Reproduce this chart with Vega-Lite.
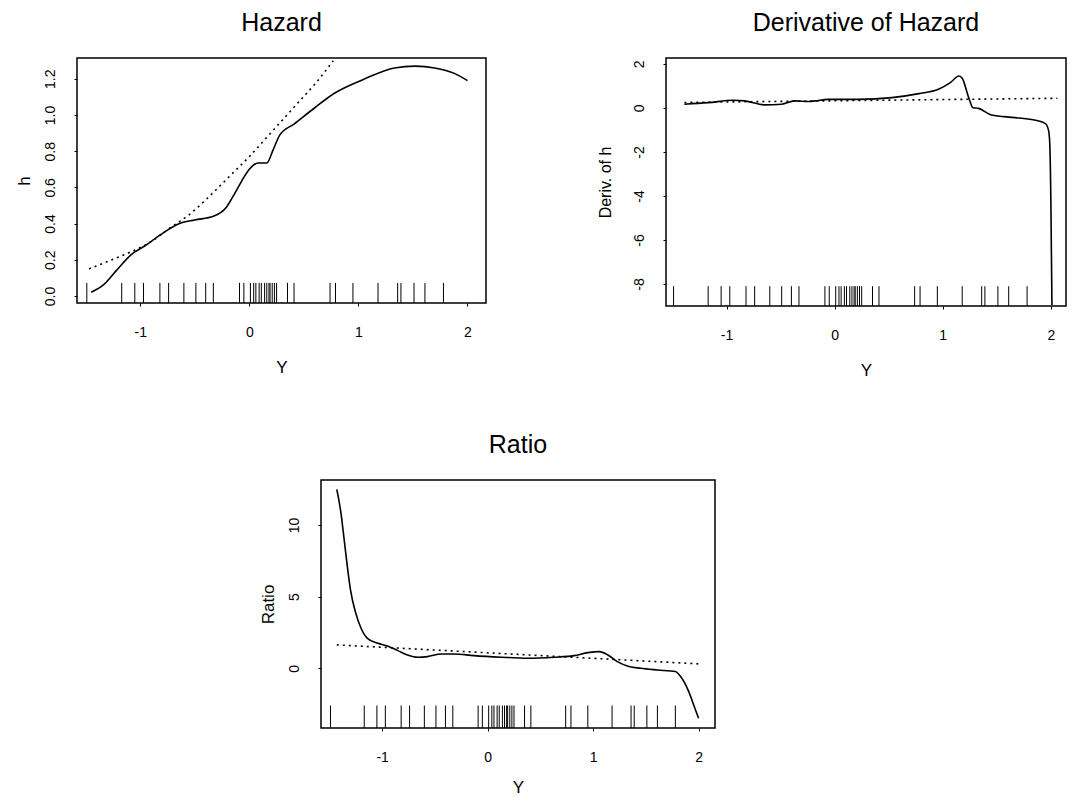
{
  "$schema": "https://vega.github.io/schema/vega-lite/v6.json",
  "padding": {"left": 14, "top": 10, "right": 0, "bottom": 0},
  "background": "white",
  "config": {
    "view": {"stroke": null},
    "font": "Liberation Sans",
    "title": {"fontSize": 25, "fontWeight": "normal", "font": "Liberation Sans", "anchor": "middle", "frame": "group", "baseline": "bottom", "offset": 22, "color": "black"},
    "axis": {"grid": false, "domain": false, "ticks": true, "tickSize": 3, "tickColor": "black", "labelFont": "Liberation Sans", "labelFontSize": 14, "labelColor": "black", "titleFont": "Liberation Sans", "titleFontSize": 17, "titleFontWeight": "normal", "titleColor": "black"},
    "axisX": {"labelPadding": 19, "titlePadding": 20},
    "axisY": {"labelAngle": 270, "labelAlign": "center", "labelBaseline": "bottom", "labelPadding": 17, "titlePadding": 10},
    "line": {"color": "black"},
    "rule": {"color": "black"}
  },
  "datasets": {
    "hazard": [
      {"x": -1.45, "y": 0.02}, {"x": -1.33, "y": 0.065}, {"x": -1.22, "y": 0.14}, {"x": -1.08, "y": 0.23},
      {"x": -0.96, "y": 0.276}, {"x": -0.81, "y": 0.34}, {"x": -0.64, "y": 0.40}, {"x": -0.50, "y": 0.42},
      {"x": -0.33, "y": 0.44}, {"x": -0.21, "y": 0.49}, {"x": -0.14, "y": 0.56}, {"x": -0.07, "y": 0.635},
      {"x": 0.0, "y": 0.70}, {"x": 0.08, "y": 0.735}, {"x": 0.16, "y": 0.735}, {"x": 0.22, "y": 0.81},
      {"x": 0.28, "y": 0.89}, {"x": 0.41, "y": 0.95}, {"x": 0.60, "y": 1.04}, {"x": 0.78, "y": 1.12},
      {"x": 1.06, "y": 1.20}, {"x": 1.33, "y": 1.26}, {"x": 1.52, "y": 1.27}, {"x": 1.70, "y": 1.26},
      {"x": 1.88, "y": 1.23}, {"x": 2.0, "y": 1.19}
    ],
    "hazard_ref": [
      {"x": -1.47, "y": 0.15}, {"x": -1.3, "y": 0.19}, {"x": -1.1, "y": 0.24}, {"x": -0.9, "y": 0.30},
      {"x": -0.74, "y": 0.37}, {"x": -0.55, "y": 0.45}, {"x": -0.35, "y": 0.56}, {"x": -0.15, "y": 0.68},
      {"x": 0.0, "y": 0.77}, {"x": 0.15, "y": 0.87}, {"x": 0.3, "y": 0.97}, {"x": 0.45, "y": 1.07},
      {"x": 0.6, "y": 1.17}, {"x": 0.77, "y": 1.30}
    ],
    "deriv": [
      {"x": -1.39, "y": 0.17}, {"x": -1.17, "y": 0.24}, {"x": -0.94, "y": 0.35}, {"x": -0.83, "y": 0.32},
      {"x": -0.65, "y": 0.14}, {"x": -0.49, "y": 0.17}, {"x": -0.37, "y": 0.32}, {"x": -0.24, "y": 0.29},
      {"x": -0.18, "y": 0.32}, {"x": -0.06, "y": 0.39}, {"x": 0.22, "y": 0.39}, {"x": 0.53, "y": 0.47},
      {"x": 0.78, "y": 0.65}, {"x": 0.96, "y": 0.85}, {"x": 1.07, "y": 1.15}, {"x": 1.15, "y": 1.45},
      {"x": 1.18, "y": 1.35}, {"x": 1.24, "y": 0.47}, {"x": 1.28, "y": 0.01}, {"x": 1.33, "y": -0.02},
      {"x": 1.45, "y": -0.32}, {"x": 1.67, "y": -0.44}, {"x": 1.86, "y": -0.56}, {"x": 1.95, "y": -0.71},
      {"x": 1.98, "y": -1.05}, {"x": 1.99, "y": -1.65}, {"x": 2.0, "y": -4.2}, {"x": 2.01, "y": -8.95}
    ],
    "deriv_ref": [
      {"x": -1.39, "y": 0.25}, {"x": 2.06, "y": 0.44}
    ],
    "ratio": [
      {"x": -1.43, "y": 12.49}, {"x": -1.39, "y": 10.8}, {"x": -1.36, "y": 8.95}, {"x": -1.33, "y": 7.09},
      {"x": -1.30, "y": 5.46}, {"x": -1.25, "y": 3.84}, {"x": -1.20, "y": 2.79}, {"x": -1.14, "y": 2.09},
      {"x": -1.04, "y": 1.74}, {"x": -0.95, "y": 1.56},
      {"x": -0.85, "y": 1.23}, {"x": -0.76, "y": 0.93}, {"x": -0.66, "y": 0.77}, {"x": -0.57, "y": 0.81},
      {"x": -0.44, "y": 1.0}, {"x": -0.32, "y": 1.0}, {"x": -0.13, "y": 0.88}, {"x": 0.13, "y": 0.77},
      {"x": 0.38, "y": 0.70}, {"x": 0.63, "y": 0.77}, {"x": 0.82, "y": 0.88}, {"x": 0.95, "y": 1.09},
      {"x": 1.06, "y": 1.16}, {"x": 1.14, "y": 0.93}, {"x": 1.23, "y": 0.46}, {"x": 1.34, "y": 0.12},
      {"x": 1.45, "y": 0.0}, {"x": 1.61, "y": -0.12}, {"x": 1.78, "y": -0.23}, {"x": 1.83, "y": -0.58},
      {"x": 1.90, "y": -1.51}, {"x": 1.96, "y": -2.68}, {"x": 2.0, "y": -3.49}
    ],
    "ratio_ref": [
      {"x": -1.43, "y": 1.63}, {"x": 2.02, "y": 0.30}
    ],
    "rug": [
      {"x": -1.49}, {"x": -1.17}, {"x": -1.05}, {"x": -0.97}, {"x": -0.82}, {"x": -0.74}, {"x": -0.60},
      {"x": -0.49}, {"x": -0.40}, {"x": -0.33}, {"x": -0.09}, {"x": -0.05}, {"x": 0.01}, {"x": 0.04},
      {"x": 0.06}, {"x": 0.09}, {"x": 0.11}, {"x": 0.14}, {"x": 0.16}, {"x": 0.18}, {"x": 0.19},
      {"x": 0.21}, {"x": 0.23}, {"x": 0.25}, {"x": 0.35}, {"x": 0.41}, {"x": 0.74}, {"x": 0.79},
      {"x": 0.95}, {"x": 1.18}, {"x": 1.36}, {"x": 1.39}, {"x": 1.51}, {"x": 1.61}, {"x": 1.78}
    ]
  },
  "spacing": 53,
  "vconcat": [
    {
      "spacing": 109,
      "hconcat": [
        {
          "width": 409, "height": 245,
          "view": {"stroke": "black", "strokeWidth": 1.5},
          "title": {"text": "Hazard"},
          "layer": [
            {
              "data": {"name": "hazard"},
              "mark": {"type": "line", "strokeWidth": 1.6, "interpolate": "monotone", "clip": true},
              "encoding": {
                "x": {"field": "x", "type": "quantitative", "scale": {"domain": [-1.58, 2.17], "nice": false, "zero": false}, "axis": {"values": [-1, 0, 1, 2], "labelExpr": "'' + datum.value", "title": "Y"}},
                "y": {"field": "y", "type": "quantitative", "scale": {"domain": [-0.039, 1.315], "nice": false, "zero": false}, "axis": {"values": [0, 0.2, 0.4, 0.6, 0.8, 1.0, 1.2], "format": ".1f", "title": "h"}}
              }
            },
            {
              "data": {"name": "hazard_ref"},
              "mark": {"type": "line", "strokeWidth": 1.6, "strokeDash": [2, 4], "interpolate": "monotone", "clip": true},
              "encoding": {
                "x": {"field": "x", "type": "quantitative"},
                "y": {"field": "y", "type": "quantitative"}
              }
            },
            {
              "data": {"name": "rug"},
              "mark": {"type": "rule", "strokeWidth": 1},
              "encoding": {
                "x": {"field": "x", "type": "quantitative"},
                "y": {"datum": -0.039},
                "y2": {"datum": 0.072}
              }
            }
          ]
        },
        {
          "width": 400, "height": 248,
          "view": {"stroke": "black", "strokeWidth": 1.5},
          "title": {"text": "Derivative of Hazard"},
          "layer": [
            {
              "data": {"name": "deriv"},
              "mark": {"type": "line", "strokeWidth": 1.6, "interpolate": "monotone", "clip": true},
              "encoding": {
                "x": {"field": "x", "type": "quantitative", "scale": {"domain": [-1.56, 2.14], "nice": false, "zero": false}, "axis": {"values": [-1, 0, 1, 2], "labelExpr": "'' + datum.value", "title": "Y"}},
                "y": {"field": "y", "type": "quantitative", "scale": {"domain": [-9.0, 2.27], "nice": false, "zero": false}, "axis": {"values": [-8, -6, -4, -2, 0, 2], "labelExpr": "'' + datum.value", "title": "Deriv. of h", "titlePadding": 19, "titleFontSize": 16}}
              }
            },
            {
              "data": {"name": "deriv_ref"},
              "mark": {"type": "line", "strokeWidth": 1.6, "strokeDash": [2, 4], "clip": true},
              "encoding": {
                "x": {"field": "x", "type": "quantitative"},
                "y": {"field": "y", "type": "quantitative"}
              }
            },
            {
              "data": {"name": "rug"},
              "mark": {"type": "rule", "strokeWidth": 1},
              "encoding": {
                "x": {"field": "x", "type": "quantitative"},
                "y": {"datum": -9.0},
                "y2": {"datum": -8.1}
              }
            }
          ]
        }
      ]
    },
    {
      "spacing": 0,
      "hconcat": [
        {
          "width": 181, "height": 10,
          "data": {"values": []},
          "mark": {"type": "point", "opacity": 0},
          "encoding": {}
        },
        {
          "width": 394, "height": 248,
          "view": {"stroke": "black", "strokeWidth": 1.5},
          "title": {"text": "Ratio"},
          "layer": [
            {
              "data": {"name": "ratio"},
              "mark": {"type": "line", "strokeWidth": 1.6, "interpolate": "monotone", "clip": true},
              "encoding": {
                "x": {"field": "x", "type": "quantitative", "scale": {"domain": [-1.58, 2.156], "nice": false, "zero": false}, "axis": {"values": [-1, 0, 1, 2], "labelExpr": "'' + datum.value", "title": "Y", "titlePadding": 15}},
                "y": {"field": "y", "type": "quantitative", "scale": {"domain": [-4.17, 13.14], "nice": false, "zero": false}, "axis": {"values": [0, 5, 10], "labelExpr": "'' + datum.value", "title": "Ratio"}}
              }
            },
            {
              "data": {"name": "ratio_ref"},
              "mark": {"type": "line", "strokeWidth": 1.6, "strokeDash": [2, 4], "clip": true},
              "encoding": {
                "x": {"field": "x", "type": "quantitative"},
                "y": {"field": "y", "type": "quantitative"}
              }
            },
            {
              "data": {"name": "rug"},
              "mark": {"type": "rule", "strokeWidth": 1},
              "encoding": {
                "x": {"field": "x", "type": "quantitative"},
                "y": {"datum": -4.17},
                "y2": {"datum": -2.6}
              }
            }
          ]
        }
      ]
    }
  ]
}
